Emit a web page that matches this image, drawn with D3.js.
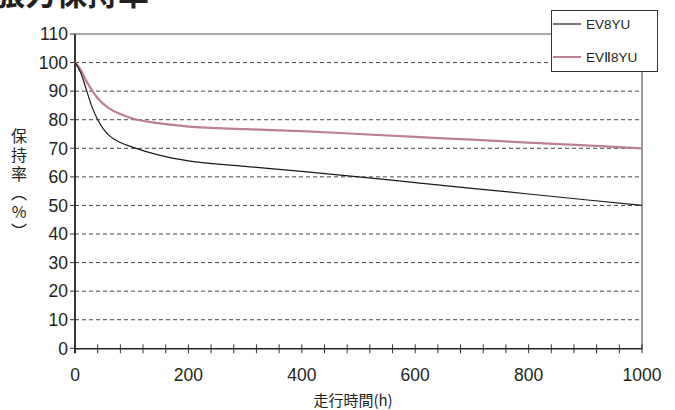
<!DOCTYPE html>
<html>
<head>
<meta charset="utf-8">
<script src="https://cdn.jsdelivr.net/npm/d3@7/dist/d3.min.js"></script>
<style>
  body { margin: 0; background: #fff; }
  svg { display: block; font-family: "Liberation Sans", Arial, sans-serif; }
  .cjk { font-family: "Noto Sans CJK JP", sans-serif; }
</style>
</head>
<body>
<div id="chart"></div>
<script>
// 走行時間 (h) / 保持率 (%)
var ev8yu = [[0,100],[10,96.5],[20,90.5],[30,84.5],[40,80],[50,76.8],[60,74.5],[80,72],[100,70.5],
  [150,67.5],[200,65.6],[300,63.7],[400,61.9],[500,60],[600,58],[700,56],[800,54],[900,52],[1000,50]];
var ev28yu = [[0,100],[10,97.5],[20,93.5],[30,90.3],[40,87.5],[60,84],[80,82],[100,80.5],[150,78.7],
  [200,77.6],[300,76.7],[400,76],[500,75],[600,74],[700,73],[800,72],[900,71],[1000,70]];
var yTicks = [0,10,20,30,40,50,60,70,80,90,100,110];
var xTicks = [0,200,400,600,800,1000];
var seriesNames = ["EV8YU", "EVⅡ8YU"];
var seriesColors = ["#1a1a1a", "#bd7f8f"];

var W = 675, H = 410;
var svg = d3.select("#chart").append("svg").attr("width", W).attr("height", H);

var x = d3.scaleLinear().domain([0, 1000]).range([75, 642]);
var y = d3.scaleLinear().domain([0, 110]).range([348.3, 34]);

// title, cut off at the top like the original
svg.append("text").attr("class", "cjk")
  .attr("x", -6).attr("y", 5)
  .attr("font-size", 31).attr("font-weight", "bold").attr("fill", "#231f20")
  .text("張力保持率");

// grid
svg.append("g").selectAll("line")
  .data(yTicks.filter(function (d) { return d > 0 && d < 110; }))
  .enter().append("line")
  .attr("x1", x(0)).attr("x2", x(1000))
  .attr("y1", function (d) { return y(d); }).attr("y2", function (d) { return y(d); })
  .attr("stroke", "#444").attr("stroke-width", 1).attr("stroke-dasharray", "4,3");

svg.append("line")
  .attr("x1", x(0)).attr("x2", x(1000)).attr("y1", y(110)).attr("y2", y(110))
  .attr("stroke", "#555").attr("stroke-width", 1.2);

svg.append("line")
  .attr("x1", x(1000)).attr("x2", x(1000)).attr("y1", y(110)).attr("y2", y(0))
  .attr("stroke", "#777").attr("stroke-width", 1.5);

// axes
var xAxis = d3.axisBottom(x).tickValues(d3.range(0, 1001, 40)).tickSize(0).tickFormat("");
svg.append("g").attr("transform", "translate(0," + y(0) + ")").call(xAxis)
  .call(function (g) { g.select(".domain").attr("stroke", "#222").attr("stroke-width", 1.5); });

svg.append("g").selectAll("line").data(d3.range(0, 1001, 40)).enter().append("line")
  .attr("x1", function (d) { return x(d); }).attr("x2", function (d) { return x(d); })
  .attr("y1", y(0) - 4).attr("y2", y(0) + 5)
  .attr("stroke", "#333").attr("stroke-width", 1);

svg.append("line")
  .attr("x1", x(0)).attr("x2", x(0)).attr("y1", y(110)).attr("y2", y(0) + 5)
  .attr("stroke", "#222").attr("stroke-width", 1.8);

svg.append("g").selectAll("line").data(yTicks).enter().append("line")
  .attr("x1", x(0) - 5).attr("x2", x(0))
  .attr("y1", function (d) { return y(d); }).attr("y2", function (d) { return y(d); })
  .attr("stroke", "#333").attr("stroke-width", 1);

// tick labels
svg.append("g").selectAll("text").data(yTicks).enter().append("text")
  .attr("x", 68).attr("y", function (d) { return y(d); }).attr("dy", "0.36em")
  .attr("text-anchor", "end").attr("font-size", 17.5).attr("fill", "#231f20")
  .text(function (d) { return d; });

svg.append("g").selectAll("text").data(xTicks).enter().append("text")
  .attr("x", function (d) { return x(d); }).attr("y", 381)
  .attr("text-anchor", "middle").attr("font-size", 17.5).attr("fill", "#231f20")
  .text(function (d) { return d; });

// axis titles
svg.append("text").attr("class", "cjk")
  .attr("x", 353).attr("y", 406).attr("text-anchor", "middle")
  .attr("font-size", 15).attr("fill", "#231f20").text("走行時間(h)");

svg.append("text").attr("class", "cjk")
  .attr("x", 19).attr("y", 128)
  .attr("font-size", 16).attr("fill", "#231f20")
  .style("writing-mode", "vertical-rl").style("text-orientation", "upright")
  .style("letter-spacing", "3px")
  .text("保持率（%）");

// lines
var line = d3.line()
  .x(function (d) { return x(d[0]); })
  .y(function (d) { return y(d[1]); })
  .curve(d3.curveMonotoneX);

svg.append("path").datum(ev28yu).attr("d", line)
  .attr("fill", "none").attr("stroke", seriesColors[1]).attr("stroke-width", 2.2);
svg.append("path").datum(ev8yu).attr("d", line)
  .attr("fill", "none").attr("stroke", seriesColors[0]).attr("stroke-width", 1.2);

// legend
var lg = svg.append("g");
lg.append("rect").attr("x", 551.5).attr("y", 10.5).attr("width", 106).attr("height", 61)
  .attr("fill", "#fff").attr("stroke", "#333").attr("stroke-width", 1);
var item = lg.selectAll("g.item").data(seriesNames).enter().append("g").attr("class", "item")
  .attr("transform", function (d, i) { return "translate(0," + (24 + i * 33) + ")"; });
item.append("line").attr("x1", 553).attr("x2", 581).attr("y1", 0).attr("y2", 0)
  .attr("stroke", function (d, i) { return seriesColors[i]; })
  .attr("stroke-width", function (d, i) { return i ? 2 : 1.2; });
item.append("text").attr("x", 586).attr("y", 0).attr("dy", "0.36em")
  .attr("font-size", 13.5).attr("fill", "#231f20")
  .text(function (d) { return d; });
</script>
</body>
</html>
